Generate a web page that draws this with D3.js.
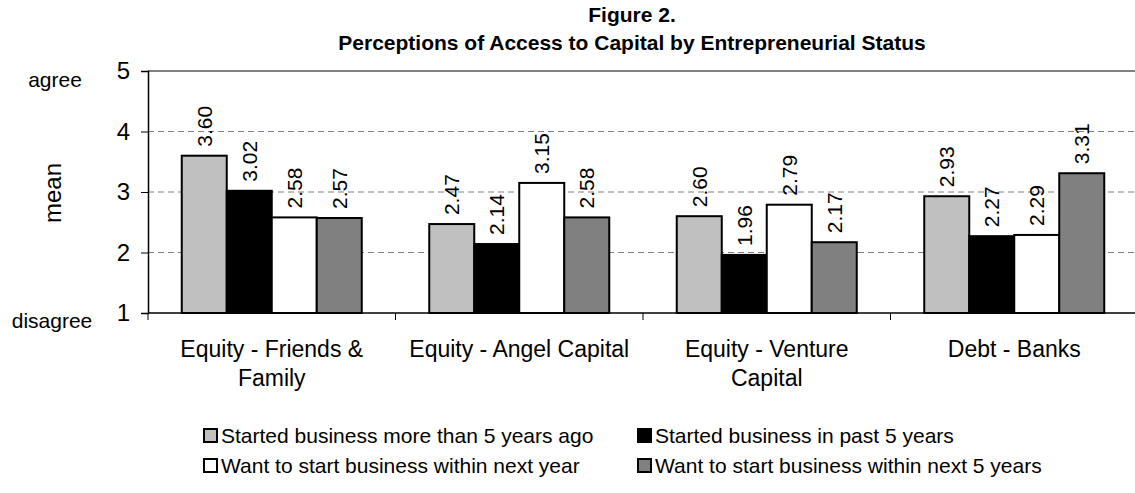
<title>Figure 2</title>
<body style="margin:0;background:#fff"></body>
<script src="https://d3js.org/d3.v7.min.js"></script>
<script>
// data
const categories = [['Equity - Friends &', 'Family'], ['Equity - Angel Capital'], ['Equity - Venture', 'Capital'], ['Debt - Banks']]
const seriesNames = ['Started business more than 5 years ago', 'Started business in past 5 years',
  'Want to start business within next year', 'Want to start business within next 5 years']
const moreThan5 = [3.60, 2.47, 2.60, 2.93]
const past5 = [3.02, 2.14, 1.96, 2.27]
const nextYear = [2.58, 3.15, 2.79, 2.29]
const next5 = [2.57, 2.58, 2.17, 3.31]
const yTicks = [1, 2, 3, 4, 5]
const colors = ['#c0c0c0', '#000000', '#ffffff', '#808080']

const series = [moreThan5, past5, nextYear, next5]
const font = 'Liberation Sans, Arial, sans-serif'

svg = d3.select('body').append('svg')
    .attr('width', 1135)
    .attr('height', 493)
    .style('font-family', font)

x0 = d3.scaleBand().domain(d3.range(categories.length)).range([148, 1138])
bw = x0.bandwidth() / (series.length + 1.5)
x1 = d3.scaleBand().domain(d3.range(series.length))
    .range([0.75 * bw, x0.bandwidth() - 0.75 * bw])
y = d3.scaleLinear().domain([1, 5]).range([313, 71])

// title
svg.append('text').attr('x', 632).attr('y', 22).attr('text-anchor', 'middle')
    .style('font-size', '21px').style('font-weight', 'bold').text('Figure 2.')
svg.append('text').attr('x', 632).attr('y', 50).attr('text-anchor', 'middle')
    .style('font-size', '21px').style('font-weight', 'bold')
    .text('Perceptions of Access to Capital by Entrepreneurial Status')

// gridlines
svg.append('g').selectAll('line').data([2, 3, 4]).join('line')
    .attr('x1', 148).attr('x2', 1138)
    .attr('y1', d => y(d)).attr('y2', d => y(d))
    .attr('stroke', '#808080').attr('stroke-dasharray', '6,4')
svg.append('line').attr('x1', 148).attr('x2', 1138).attr('y1', y(5)).attr('y2', y(5))
    .attr('stroke', '#808080').attr('stroke-width', 2)

// bars
groups = svg.append('g').selectAll('g').data(categories).join('g')
    .attr('transform', (d, i) => `translate(${x0(i)},0)`)
groups.selectAll('rect').data((d, i) => series.map((s, j) => ({ j, v: s[i] }))).join('rect')
    .attr('x', d => x1(d.j)).attr('width', x1.bandwidth())
    .attr('y', d => y(d.v)).attr('height', d => y(1) - y(d.v))
    .attr('fill', d => colors[d.j]).attr('stroke', '#000').attr('stroke-width', 2)
groups.selectAll('text').data((d, i) => series.map((s, j) => ({ j, v: s[i] }))).join('text')
    .attr('transform', d => `translate(${x1(d.j) + x1.bandwidth() / 2},${y(d.v) - 9}) rotate(-90)`)
    .attr('dy', '0.35em')
    .style('font-size', '21px')
    .text(d => d.v.toFixed(2))

// y axis
yAxis = d3.axisLeft(y).tickValues(yTicks).tickSize(7).tickFormat(d3.format('d'))
svg.append('g').attr('transform', 'translate(148,0)').call(yAxis)
    .call(g => g.select('.domain').attr('stroke-width', 1.5))
    .call(g => g.selectAll('.tick text').attr('x', -18).style('font-size', '24px').style('font-family', font))

// x axis
svg.append('line').attr('x1', 148).attr('x2', 1138).attr('y1', y(1)).attr('y2', y(1))
    .attr('stroke', '#000').attr('stroke-width', 1.5)
svg.append('g').selectAll('line').data(d3.range(categories.length + 1)).join('line')
    .attr('x1', i => 148 + i * x0.bandwidth()).attr('x2', i => 148 + i * x0.bandwidth())
    .attr('y1', y(1)).attr('y2', y(1) + 7).attr('stroke', '#000')
svg.append('g').selectAll('text').data(categories).join('text')
    .attr('x', (d, i) => x0(i) + x0.bandwidth() / 2).attr('y', 357)
    .attr('text-anchor', 'middle').style('font-size', '23px')
    .selectAll('tspan').data(d => d).join('tspan')
    .attr('x', function () { return d3.select(this.parentNode).attr('x') })
    .attr('dy', (d, i) => i ? 29 : 0)
    .text(d => d)

// axis side labels
svg.append('text').attr('x', 55).attr('y', 87).attr('text-anchor', 'middle')
    .style('font-size', '21px').text('agree')
svg.append('text').attr('x', 52).attr('y', 328).attr('text-anchor', 'middle')
    .style('font-size', '21px').text('disagree')
svg.append('text').attr('transform', 'translate(53,193) rotate(-90)')
    .attr('text-anchor', 'middle').attr('dy', '0.35em')
    .style('font-size', '24px').text('mean')

// legend
legend = svg.append('g').selectAll('g').data(seriesNames).join('g')
    .attr('transform', (d, i) => `translate(${i % 2 ? 638 : 204},${i < 2 ? 429 : 459})`)
legend.append('rect').attr('width', 13).attr('height', 13)
    .attr('fill', (d, i) => colors[i]).attr('stroke', '#000').attr('stroke-width', 2)
legend.append('text').attr('x', 17).attr('y', 14)
    .style('font-size', '21px').text(d => d)
</script>
